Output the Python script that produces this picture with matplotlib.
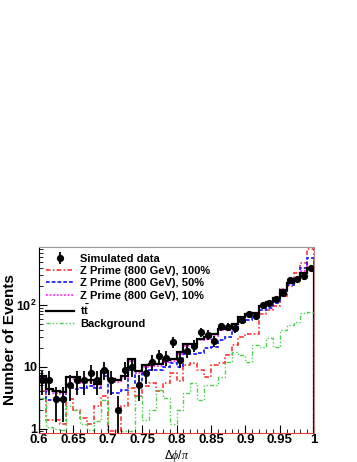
import numpy as np
import matplotlib.pyplot as plt

plt.rcParams['font.family'] = ['Liberation Sans', 'DejaVu Sans']
plt.rcParams['mathtext.fontset'] = 'custom'
plt.rcParams['mathtext.rm'] = 'Liberation Sans'
plt.rcParams['mathtext.bf'] = 'Liberation Sans:bold'
plt.rcParams['mathtext.it'] = 'Liberation Serif:italic'

edges = np.linspace(0.6, 1.0, 41)

data = [6, 6, 3, 3, 5, 6, 6, 8, 6, 9,
        6, 2, 9, 10, 5, 8, 12, 15, 14, 25,
        13, 18, 22, 36, 33, 26, 45, 44, 42, 57,
        72, 66, 100, 108, 125, 155, 250, 260, 295, 390]

ttbar = [7.2, 4.3, 4.1, 3.9, 6.8, 6.8, 5.9, 6.0, 5.3, 8.4,
         6.3, 6.0, 7.1, 13.5, 8.4, 10.6, 11.2, 11.2, 12.9, 13.5,
         17.2, 23.7, 23.7, 28.6, 30, 34, 41, 42, 49, 63,
         70, 75, 96, 112, 128, 175, 224, 265, 333, 402]

zp10 = [6.7, 4.0, 3.8, 3.6, 6.3, 6.3, 5.5, 5.6, 4.9, 7.8,
        5.9, 5.6, 6.6, 12.5, 7.8, 9.9, 10.4, 10.4, 12.0, 12.6,
        16.0, 22.0, 22.0, 27, 28, 32, 39, 40, 47, 61,
        68, 73, 95, 111, 128, 178, 230, 275, 350, 420]

zp50 = [5.8, 2.9, 2.9, 2.9, 5.1, 4.3, 4.6, 4.8, 4.6, 7.0,
        3.7, 3.7, 4.2, 9.0, 5.4, 7.8, 8.9, 8.9, 10.0, 11.7,
        10.0, 16, 16, 16.5, 20, 21, 27, 30, 38, 52,
        58, 63, 83, 90, 109, 150, 210, 250, 390, 580]

zp100 = [4.1, 1.4, 1.4, 1.2, 3.0, 2.0, 1.5, 1.2, 2.3, 3.3,
         0.9, 0.9, 2.3, 4.5, 3.3, 4.8, 5.4, 4.0, 5.4, 7.8,
         5.8, 10.7, 11.4, 9.0, 6.9, 10.7, 11.4, 15.5, 22.5, 30.7,
         34, 34, 71, 83, 96, 140, 204, 325, 485, 800]

bkg = [3.1, 1.05, 0.97, 0.95, 2.3, 2.0, 1.2, 0.95, 1.3, 2.9,
       0.8, 0.8, 0.9, 0.9, 3.3, 1.4, 2.0, 4.2, 3.1, 1.2,
       2.0, 3.7, 5.4, 2.9, 5.1, 5.1, 6.9, 12, 17.6, 15.5,
       12, 22.5, 21, 29, 21, 39, 47, 53, 75, 78]

centers = 0.5 * (edges[:-1] + edges[1:])

fig = plt.figure(figsize=(3.57, 4.62), dpi=100)
ax = fig.add_axes([0.109, 0.063, 0.771, 0.402])

ax.stairs(zp100, edges, color='#ff2020', lw=1.1, ls=(0, (3, 1.5, 1, 1.5)),
          label='Z Prime (800 GeV), 100%')
ax.stairs(zp50, edges, color='#2020ff', lw=1.3, ls=(0, (2, 1.2)),
          label='Z Prime (800 GeV), 50%')
ax.stairs(zp10, edges, color='#ff30ff', lw=1.3, ls=(0, (1, 1)),
          label='Z Prime (800 GeV), 10%')
ax.stairs(ttbar, edges, color='black', lw=1.6, label=r'$\mathbf{t\bar{t}}$')
ax.stairs(bkg, edges, color='#50d050', lw=1.0, ls=(0, (3, 1.5, 1, 1.5, 1, 1.5)),
          label='Background')
ax.errorbar(centers, data, yerr=np.sqrt(data), fmt='o', color='black',
            ms=4.2, elinewidth=1.3, capsize=0, label='Simulated data')

ax.set_yscale('log')
ax.set_xlim(0.6, 1.0)
ax.set_ylim(0.85, 860)

ax.set_xticks([0.6, 0.65, 0.7, 0.75, 0.8, 0.85, 0.9, 0.95, 1.0])
ax.set_xticklabels(['0.6', '0.65', '0.7', '0.75', '0.8', '0.85', '0.9', '0.95', '1'])
ax.set_yticks([1, 10, 100])
ax.set_yticklabels(['1', '10', r'$\mathbf{10^{2}}$'])
ax.tick_params(axis='both', which='both', direction='in', top=False, right=False)
ax.tick_params(axis='both', which='major', length=6)
ax.tick_params(axis='x', which='major', pad=1, labelsize=9.5)
ax.tick_params(axis='y', which='major', pad=1.5, labelsize=9)
ax.tick_params(axis='both', which='minor', length=3)
ax.minorticks_on()
ax.xaxis.set_minor_locator(plt.MultipleLocator(0.01))
for lab in ax.get_xticklabels() + ax.get_yticklabels():
    lab.set_fontweight('bold')

ax.spines['top'].set_color('#999999')
ax.spines['right'].set_color('#c08080')
ax.spines['bottom'].set_color('#e04040')

ax.set_xlabel(r'$\Delta\phi/\pi$', fontsize=8.5)
ax.xaxis.set_label_coords(0.5, -0.08)
ax.set_ylabel('Number of Events', fontsize=11, fontweight='bold')
ax.yaxis.set_label_coords(-0.08, 0.5)

handles, labels = ax.get_legend_handles_labels()
order = [5, 0, 1, 2, 3, 4]
leg = ax.legend([handles[i] for i in order], [labels[i] for i in order],
                loc='upper left', frameon=False,
                prop={'weight': 'bold', 'size': 8}, handlelength=2.6,
                labelspacing=0.2, borderaxespad=0.2, handletextpad=0.5)

fig.savefig('out.png', dpi=100)
